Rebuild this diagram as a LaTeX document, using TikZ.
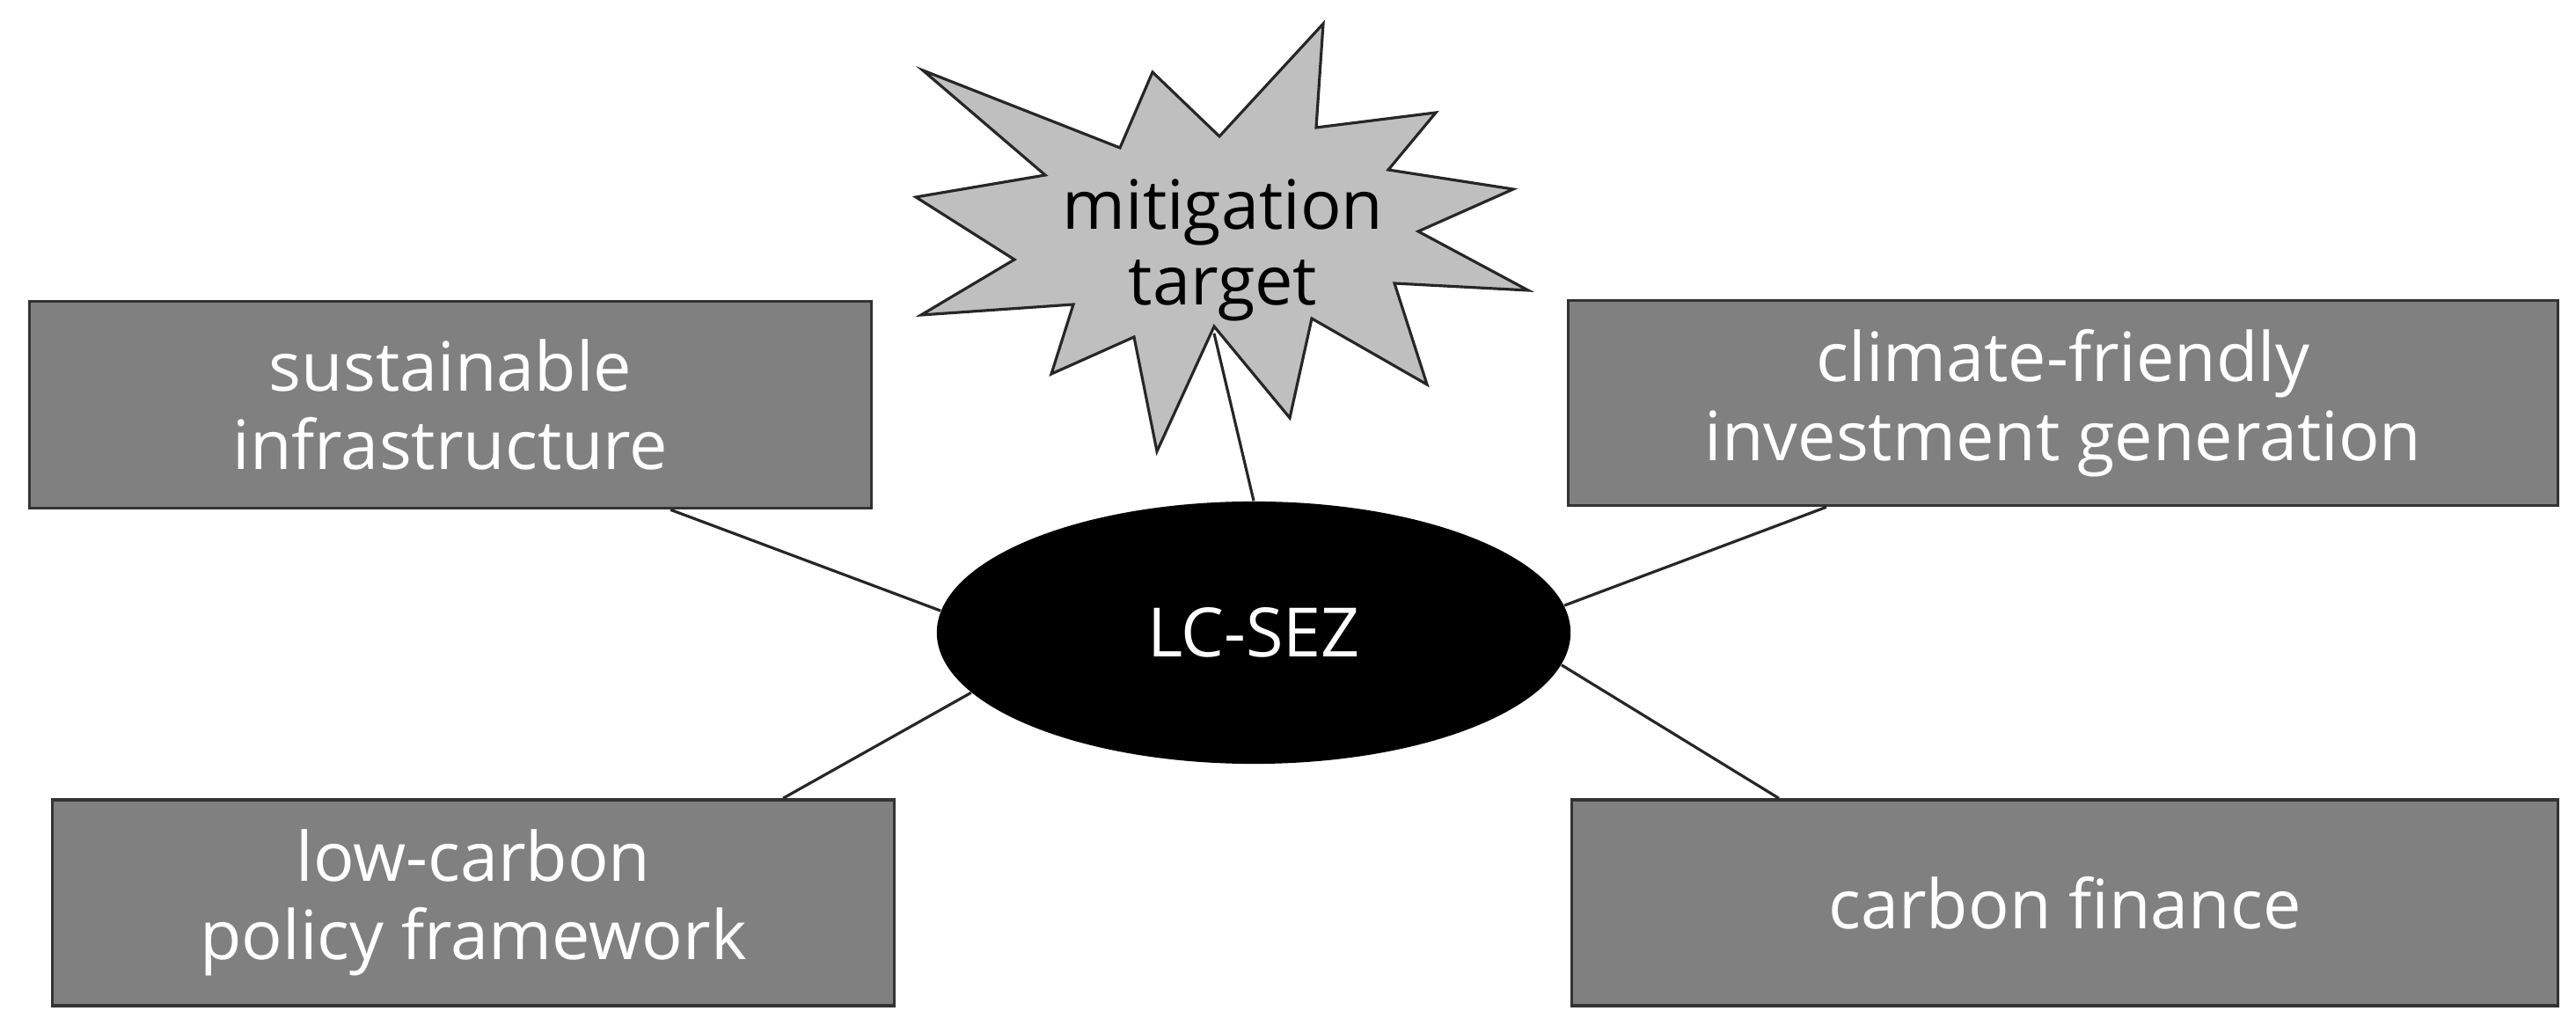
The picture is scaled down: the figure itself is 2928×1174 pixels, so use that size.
\documentclass[tikz,border=0pt]{standalone}
\usepackage{fontspec}
\setmainfont{Open Sans}
\usetikzlibrary{shapes.geometric}
\begin{document}
\begin{tikzpicture}[x=0.01cm,y=-0.01cm,
  box/.style={draw=black!80,line width=1pt,fill=black!50,text=white,inner sep=0pt,align=center,
    font=\fontsize{22}{25.5}\selectfont},
  conn/.style={draw=black!85,line width=0.9pt}]
\useasboundingbox (0,0) rectangle (2928,1174);
\node[box,minimum width=9.56cm,minimum height=2.35cm] (b1) at (512,460) {sustainable\\infrastructure};
\node[box,minimum width=11.24cm,minimum height=2.33cm] (b2) at (2345,458) {climate-friendly\\investment generation};
\node[box,minimum width=9.56cm,minimum height=2.34cm] (b3) at (538,1026) {low-carbon\\policy framework};
\node[box,minimum width=11.2cm,minimum height=2.34cm] (b4) at (2347,1026) {carbon finance};
\node[ellipse,fill=black,minimum width=7.2cm,minimum height=2.98cm,inner sep=0pt,text=white,
  font=\fontsize{22}{25}\selectfont] (el) at (1425,719) {LC-SEZ};
\filldraw[fill=black!25,draw=black!85,line width=0.9pt,line join=miter]
 (1049,80)--(1273,168)--(1310,82)--(1386,155)--(1504,27)--(1496,145)--(1632,128)--(1578,193)
 --(1720,215)--(1612,263)--(1737,330)--(1585,322)--(1622,437)--(1491,362)--(1466,475)--(1380,371)
 --(1315,513)--(1289,383)--(1195,425)--(1220,346)--(1047,358)--(1153,295)--(1041,224)--(1188,199)--cycle;
\node[align=center,inner sep=0pt,font=\fontsize{22}{24.5}\selectfont] (st) at (1390,284) {mitigation\\target};
\coordinate (sp) at (1380,379);
\draw[conn] (sp) -- (el.north);
\draw[conn] ([xshift=2.5cm]b1.south) -- (el.176);
\draw[conn] ([xshift=-2.69cm]b2.south) -- (el.5);
\draw[conn] ([xshift=3.52cm]b3.north) -- (el.192);
\draw[conn] ([xshift=-3.25cm]b4.north) -- (el.354);
\end{tikzpicture}
\end{document}
